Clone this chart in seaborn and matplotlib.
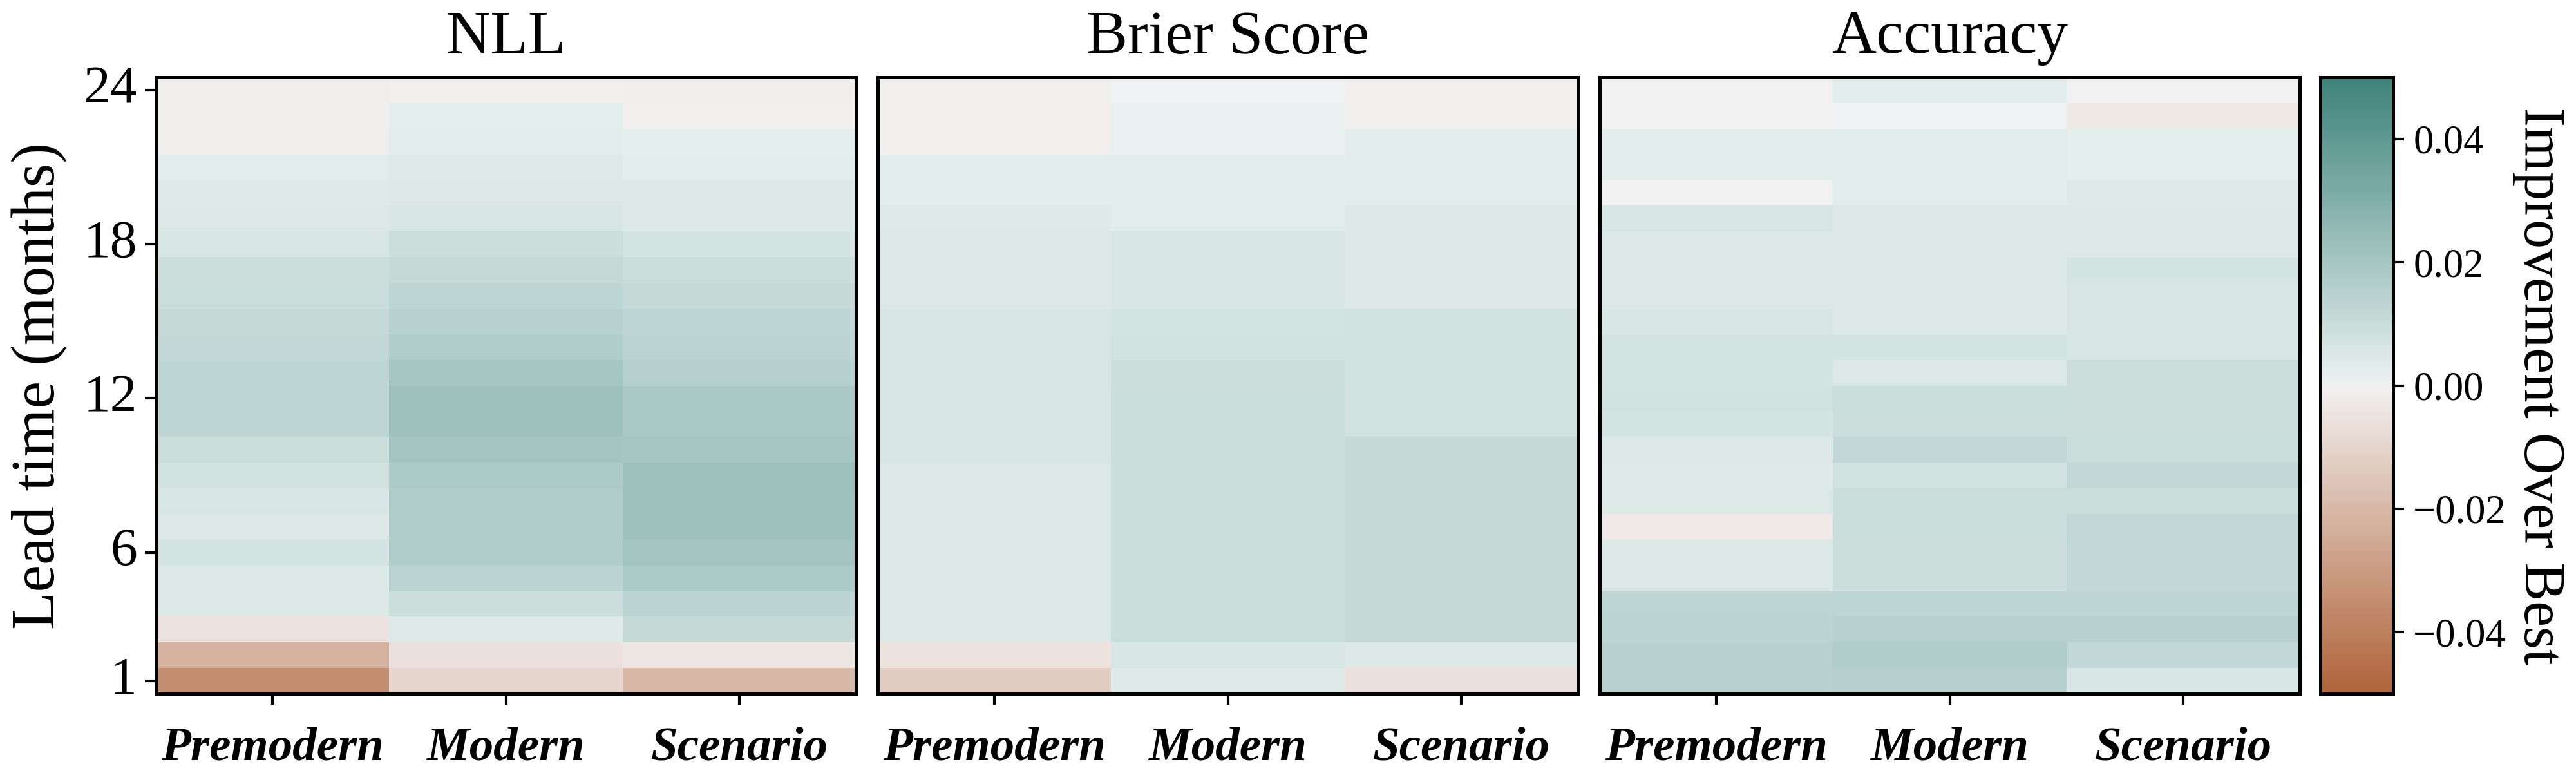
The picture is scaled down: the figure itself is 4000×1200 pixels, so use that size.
import matplotlib
matplotlib.use("Agg")
import matplotlib.pyplot as plt
import numpy as np
import pandas as pd
import seaborn as sns

lead_times = list(range(1, 25))
methods = ["Premodern", "Modern", "Scenario"]
metric_names = ["NLL", "Brier Score", "Accuracy"]

# improvement over best, lead time 1 -> 24
nll_premodern = [-0.035, -0.022, -0.005, 0.005, 0.005, 0.007, 0.005, 0.006, 0.008, 0.010, 0.013, 0.013,
                 0.013, 0.012, 0.011, 0.010, 0.009, 0.006, 0.005, 0.004, 0.003, -0.001, -0.001, -0.001]
nll_modern = [-0.010, -0.006, 0.004, 0.009, 0.014, 0.017, 0.017, 0.017, 0.018, 0.021, 0.022, 0.022,
              0.020, 0.017, 0.015, 0.013, 0.011, 0.009, 0.006, 0.005, 0.004, 0.003, 0.002, -0.0005]
nll_scenario = [-0.020, -0.004, 0.011, 0.014, 0.018, 0.021, 0.022, 0.022, 0.023, 0.020, 0.019, 0.019,
                0.016, 0.014, 0.013, 0.011, 0.010, 0.007, 0.005, 0.005, 0.003, 0.002, -0.0005, -0.001]

brier_premodern = [-0.013, -0.005, 0.005, 0.005, 0.005, 0.005, 0.005, 0.005, 0.005, 0.006, 0.006, 0.006,
                   0.006, 0.006, 0.006, 0.005, 0.005, 0.005, 0.004, 0.003, 0.003, -0.0005, -0.0005, -0.0005]
brier_modern = [0.004, 0.006, 0.010, 0.010, 0.010, 0.010, 0.010, 0.010, 0.010, 0.010, 0.010, 0.010,
                0.009, 0.008, 0.007, 0.006, 0.006, 0.006, 0.003, 0.003, 0.003, 0.001, 0.001, 0.0]
brier_scenario = [-0.006, 0.005, 0.011, 0.011, 0.011, 0.011, 0.011, 0.011, 0.011, 0.011, 0.008, 0.008,
                  0.008, 0.008, 0.008, 0.005, 0.005, 0.005, 0.005, 0.003, 0.003, 0.003, -0.0005, -0.0005]

acc_premodern = [0.015, 0.015, 0.014, 0.013, 0.005, 0.005, -0.002, 0.004, 0.004, 0.005, 0.007, 0.008,
                 0.007, 0.007, 0.006, 0.005, 0.005, 0.005, 0.006, -0.0003, 0.003, 0.003, -0.0003, -0.0003]
acc_modern = [0.016, 0.017, 0.015, 0.013, 0.009, 0.009, 0.010, 0.010, 0.008, 0.012, 0.009, 0.010,
              0.005, 0.007, 0.005, 0.005, 0.005, 0.005, 0.005, 0.003, 0.003, 0.003, 0.0, 0.003]
acc_scenario = [0.006, 0.012, 0.015, 0.013, 0.012, 0.012, 0.012, 0.010, 0.012, 0.010, 0.009, 0.009,
                0.009, 0.006, 0.006, 0.006, 0.007, 0.005, 0.005, 0.004, 0.002, 0.002, -0.003, -0.0003]

tick_leads = [1, 6, 12, 18, 24]

plt.rcParams["font.family"] = ["Liberation Serif", "DejaVu Serif"]

cmap = sns.diverging_palette(30, 180, s=75, l=50, center="light", as_cmap=True)

tables = [
    pd.DataFrame({"Premodern": nll_premodern, "Modern": nll_modern, "Scenario": nll_scenario}, index=lead_times),
    pd.DataFrame({"Premodern": brier_premodern, "Modern": brier_modern, "Scenario": brier_scenario}, index=lead_times),
    pd.DataFrame({"Premodern": acc_premodern, "Modern": acc_modern, "Scenario": acc_scenario}, index=lead_times),
]

fig = plt.figure(figsize=(40 / 3, 4), dpi=300)
lefts = [242, 1363, 2484]
axes = [fig.add_axes([l / 4000, 0.1025, 1087 / 4000, 0.7975]) for l in lefts]
cax = fig.add_axes([3603 / 4000, 0.1025, 113 / 4000, 0.7975])

for i, (ax, df, name) in enumerate(zip(axes, tables, metric_names)):
    sns.heatmap(df[methods], ax=ax, cmap=cmap, vmin=-0.05, vmax=0.05, center=0,
                cbar=(i == 2), cbar_ax=cax if i == 2 else None)
    ax.invert_yaxis()
    ax.set_title(name, fontsize=23, pad=9)
    for s in ax.spines.values():
        s.set_visible(True)
        s.set_color("black")
        s.set_linewidth(1.2)
    ax.set_xticks(np.arange(3) + 0.5)
    ax.set_xticklabels(methods, fontsize=18, fontstyle="italic", fontweight="bold", rotation=0)
    ax.tick_params(axis="x", length=4, width=1, pad=8)
    if i == 0:
        ax.set_yticks([t - 0.5 for t in tick_leads])
        ax.set_yticklabels([str(t) for t in tick_leads], fontsize=20, rotation=0)
        ax.tick_params(axis="y", length=4, width=1, pad=3)
        ax.set_ylabel("Lead time (months)", fontsize=23, labelpad=6)
    else:
        ax.set_yticks([])
        ax.set_ylabel("")

cbar = axes[2].collections[0].colorbar
cbar.set_ticks([-0.04, -0.02, 0.0, 0.02, 0.04])
cbar.ax.tick_params(labelsize=15, length=4, width=1)
cbar.outline.set_visible(True)
cbar.outline.set_edgecolor("black")
cbar.outline.set_linewidth(1.2)
cbar.set_label("Improvement Over Best", fontsize=21.5, rotation=270, labelpad=22)

fig.savefig("out.png", dpi=300)
